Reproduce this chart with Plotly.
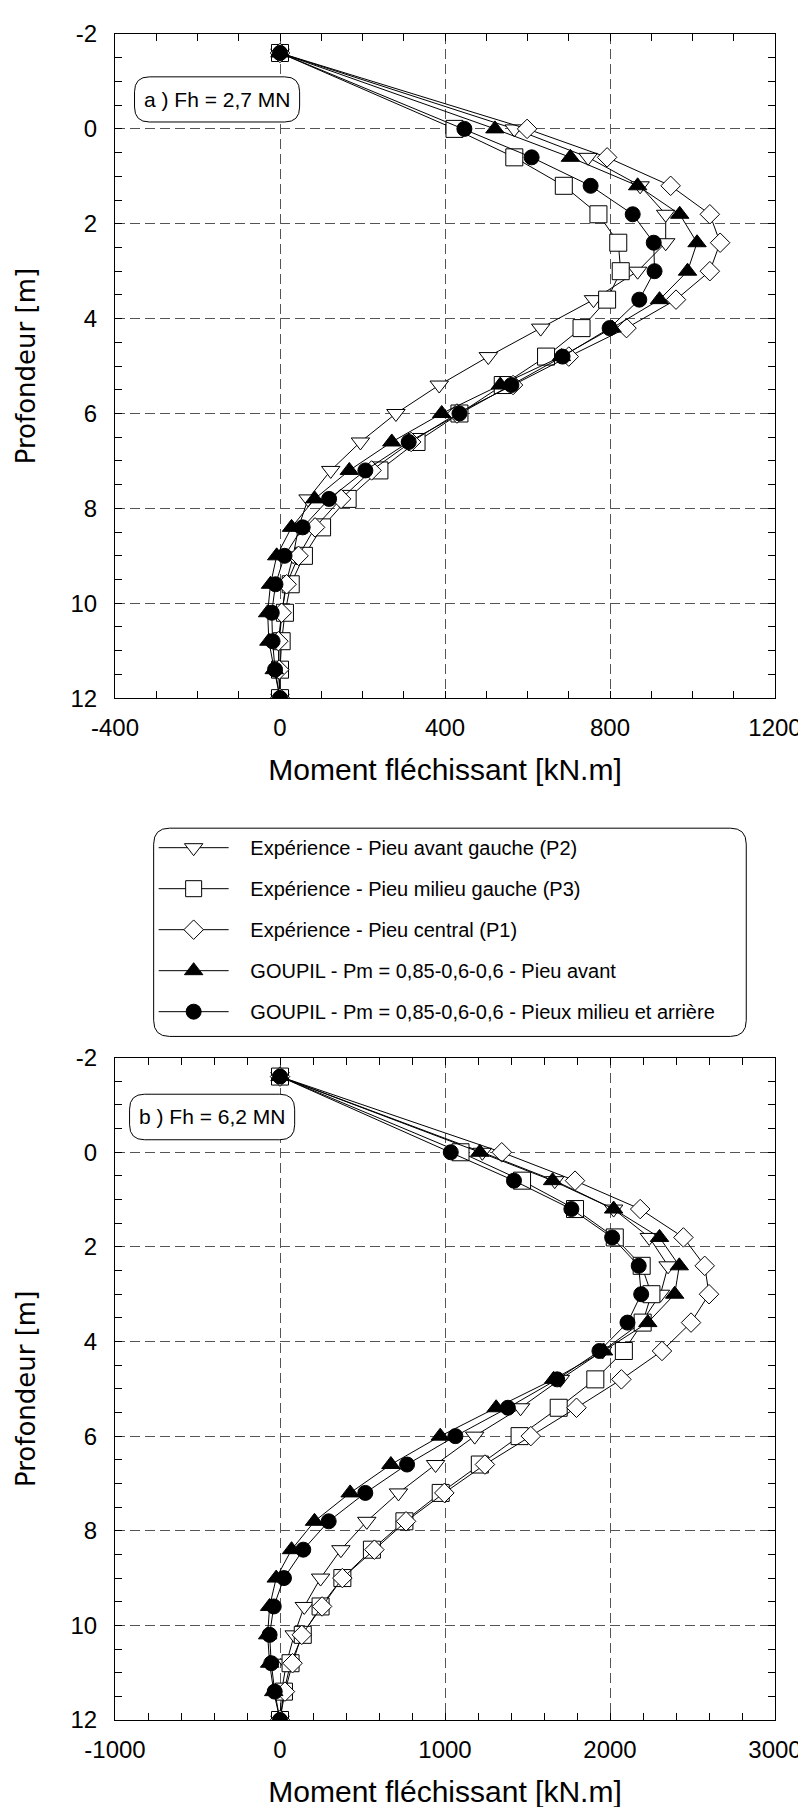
import plotly.graph_objects as go

# ---------------- data ----------------
depth = [-1.6, 0.0, 0.6, 1.2, 1.8, 2.4, 3.0, 3.6, 4.2, 4.8, 5.4, 6.0,
         6.6, 7.2, 7.8, 8.4, 9.0, 9.6, 10.2, 10.8, 11.4, 12.0]

# Panel a) Fh = 2,7 MN
a_p2 = [0, 568, 747, 873, 935, 935, 867, 760, 632, 505, 386, 281,
        195, 123, 68, 45, 32, 14, 5, -2, -4, 0]
a_p3 = [0, 423, 568, 688, 772, 820, 826, 793, 731, 645, 540, 435,
        331, 241, 164, 102, 58, 26, 12, 4, 0, 0]
a_p1 = [0, 599, 793, 947, 1042, 1067, 1042, 960, 840, 700, 565, 429,
        318, 222, 148, 85, 45, 16, 4, -4, -2, 0]
a_ga = [0, 521, 704, 867, 969, 1011, 988, 920, 805, 682, 534, 392,
        271, 168, 84, 28, -8, -23, -30, -27, -14, 0]
a_gm = [0, 447, 610, 753, 855, 906, 908, 871, 799, 685, 561, 435,
        312, 207, 119, 55, 11, -11, -20, -18, -12, 0]

# Panel b) Fh = 6,2 MN
b_p2 = [0, 1226, 1665, 2022, 2238, 2352, 2306, 2190, 1955, 1699, 1458, 1180,
        943, 718, 526, 369, 246, 147, 86, 39, 9, 0]
b_p3 = [0, 1094, 1467, 1788, 2029, 2192, 2251, 2198, 2084, 1911, 1689, 1452,
        1211, 974, 754, 557, 378, 246, 138, 64, 24, 0]
b_p1 = [0, 1344, 1788, 2183, 2445, 2574, 2600, 2491, 2315, 2069, 1797, 1520,
        1242, 996, 764, 572, 378, 255, 132, 76, 30, 0]
b_ga = [0, 1211, 1652, 2022, 2300, 2420, 2392, 2229, 1961, 1658, 1310, 971,
        672, 425, 209, 70, -23, -63, -75, -63, -38, 0]
b_gm = [0, 1035, 1418, 1766, 2013, 2174, 2189, 2106, 1936, 1680, 1381, 1063,
        770, 517, 295, 141, 24, -38, -63, -53, -32, 0]

series_names = [
    "Expérience - Pieu avant gauche (P2)",
    "Expérience - Pieu milieu gauche (P3)",
    "Expérience - Pieu central (P1)",
    "GOUPIL - Pm = 0,85-0,6-0,6 - Pieu avant",
    "GOUPIL - Pm = 0,85-0,6-0,6 - Pieux milieu et arrière",
]
panel_a = [a_p2, a_p3, a_p1, a_ga, a_gm]
panel_b = [b_p2, b_p3, b_p1, b_ga, b_gm]
panel_labels = ["a ) Fh = 2,7 MN", "b ) Fh = 6,2 MN"]
x_title = "Moment fléchissant [kN.m]"
y_title = "Profondeur [m]"

xa_tickvals = [-400, 0, 400, 800, 1200]
xa_ticktext = ["-400", "0", "400", "800", "1200"]
xb_tickvals = [-1000, 0, 1000, 2000, 3000]
xb_ticktext = ["-1000", "0", "1000", "2000", "3000"]
y_tickvals = [-2, 0, 2, 4, 6, 8, 10, 12]
y_ticktext = ["-2", "0", "2", "4", "6", "8", "10", "12"]

# ---------------- styles ----------------
symbols = ["triangle-down", "square", "diamond", "triangle-up", "circle"]
fills = ["white", "white", "white", "black", "black"]
sizes = [16, 17, 15, 16, 15]

W, H = 806, 1807
ML, MR, MT, MB = 107, 33, 21, 94
PW = W - ML - MR
PH = H - MT - MB


def px(x):
    return (x - ML) / PW


def py(y):
    return (H - MB - y) / PH


def rrect(x0, y0, x1, y1, r):
    return (f"M {px(x0 + r)},{py(y0)} L {px(x1 - r)},{py(y0)} "
            f"Q {px(x1)},{py(y0)} {px(x1)},{py(y0 + r)} "
            f"L {px(x1)},{py(y1 - r)} Q {px(x1)},{py(y1)} {px(x1 - r)},{py(y1)} "
            f"L {px(x0 + r)},{py(y1)} Q {px(x0)},{py(y1)} {px(x0)},{py(y1 - r)} "
            f"L {px(x0)},{py(y0 + r)} Q {px(x0)},{py(y0)} {px(x0 + r)},{py(y0)} Z")


fig = go.Figure()
pad = "\u00a0\u00a0\u00a0"
for pi, (panel, xa, ya) in enumerate([(panel_a, "x", "y"), (panel_b, "x2", "y2")]):
    for i, vals in enumerate(panel):
        fig.add_trace(go.Scatter(
            x=vals, y=depth, mode="lines+markers", xaxis=xa, yaxis=ya,
            name=pad + series_names[i], legendgroup=f"g{i}", showlegend=(pi == 0),
            line=dict(color="black", width=1),
            marker=dict(symbol=symbols[i], size=sizes[i], color=fills[i],
                        line=dict(color="black", width=1)),
        ))

tickfont = dict(family="Liberation Sans, Arial, sans-serif", size=24, color="black")
titlefont = dict(family="Liberation Sans, Arial, sans-serif", size=30, color="black")
ytitlefont = dict(family="DejaVu Sans, sans-serif", size=26, color="black")

common_x = dict(showline=True, linecolor="black", linewidth=1, mirror="ticks",
                ticks="inside", ticklen=7, tickwidth=1, tickcolor="black",
                showgrid=True, gridcolor="#555555", gridwidth=1, griddash="10px,5px",
                zeroline=False, tickfont=tickfont, ticklabelstandoff=8,
                tickmode="array")
common_y = dict(showline=True, linecolor="black", linewidth=1, mirror="ticks",
                ticks="inside", ticklen=7, tickwidth=1, tickcolor="black",
                showgrid=True, gridcolor="#555555", gridwidth=1, griddash="10px,5px",
                zeroline=False, tickfont=tickfont, ticklabelstandoff=12,
                range=[12, -2], tickmode="array", tickvals=y_tickvals,
                ticktext=y_ticktext,
                minor=dict(tick0=-2, dtick=0.5, ticks="inside", ticklen=7,
                           tickcolor="black", showgrid=False))

top_dom = [py(687.5), 1.0]
bot_dom = [0.0, py(1048.3)]

fig.update_layout(
    width=W, height=H,
    margin=dict(l=ML, r=MR, t=MT, b=MB),
    paper_bgcolor="white", plot_bgcolor="white",
    xaxis=dict(common_x, domain=[0, 1], anchor="y", range=[-400, 1200],
               tickvals=xa_tickvals, ticktext=xa_ticktext,
               minor=dict(tick0=-400, dtick=100, ticks="inside", ticklen=7,
                          tickcolor="black", showgrid=False),
               title=dict(text=x_title, font=titlefont, standoff=19)),
    yaxis=dict(common_y, domain=top_dom, anchor="x",
               title=dict(text=y_title, font=ytitlefont, standoff=27)),
    xaxis2=dict(common_x, domain=[0, 1], anchor="y2", range=[-1000, 3000],
                tickvals=xb_tickvals, ticktext=xb_ticktext,
                minor=dict(tick0=-1000, dtick=200, ticks="inside", ticklen=7,
                           tickcolor="black", showgrid=False),
                title=dict(text=x_title, font=titlefont, standoff=19)),
    yaxis2=dict(common_y, domain=bot_dom, anchor="x2",
                title=dict(text=y_title, font=ytitlefont, standoff=27)),
    legend=dict(x=px(146), y=py(818), xanchor="left", yanchor="top",
                bgcolor="rgba(0,0,0,0)", borderwidth=0,
                font=dict(family="Liberation Sans, Arial, sans-serif", size=20,
                          color="black"),
                itemwidth=70, tracegroupgap=12, itemsizing="trace"),
    showlegend=True,
)

shapes = [
    dict(type="path", path=rrect(126.7, 64, 293.3, 109.3, 15), xref="paper", yref="paper",
         line=dict(color="black", width=1), fillcolor="white", layer="above"),
    dict(type="path", path=rrect(121.7, 1085, 288.3, 1130.7, 15), xref="paper", yref="paper",
         line=dict(color="black", width=1), fillcolor="white", layer="above"),
    dict(type="path", path=rrect(146, 818, 744, 1027, 16), xref="paper", yref="paper",
         line=dict(color="black", width=1), fillcolor="white", layer="below"),
]
fig.update_layout(shapes=shapes)

annfont = dict(family="Liberation Sans, Arial, sans-serif", size=21, color="black")
fig.add_annotation(text=panel_labels[0], xref="paper", yref="paper",
                   x=px(210), y=py(86.7), xanchor="center", yanchor="middle",
                   showarrow=False, font=annfont)
fig.add_annotation(text=panel_labels[1], xref="paper", yref="paper",
                   x=px(205), y=py(1107.8), xanchor="center", yanchor="middle",
                   showarrow=False, font=annfont)

fig.write_html("out.html")
